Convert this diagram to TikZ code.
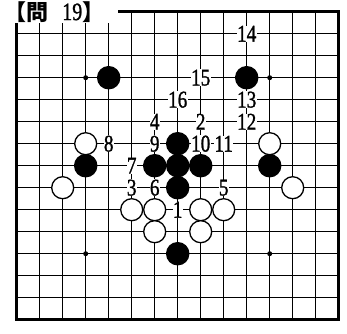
\documentclass[tikz,border=0pt]{standalone}
\usepackage{fontspec}
\setmainfont{Liberation Serif}
\newfontfamily\numfont{Liberation Serif}[FakeBold=1.2]
\newfontfamily\cjk{Noto Sans CJK JP}
\begin{document}
\begin{tikzpicture}[x=23pt,y=-22pt,
 blk/.style={circle,fill=black,minimum size=23.5pt,inner sep=0pt},
 wht/.style={circle,draw,line width=1.3pt,fill=white,minimum size=22pt,inner sep=0pt},
 num/.style={fill=white,inner sep=.2pt,font=\numfont\fontsize{24}{24}\selectfont},
 hoshi/.style={circle,fill=black,minimum size=5pt,inner sep=0pt}]
\useasboundingbox (-16.7pt,11.7pt) rectangle (330.3pt,-321.3pt);
% board
\foreach \i in {1,...,13} {
 \draw[line width=1.1pt] (\i,0) -- (\i,14);
 \draw[line width=1.1pt] (0,\i) -- (14,\i);
}
\draw[line width=2.6pt] (0,0) rectangle (14,14);
\foreach \c/\r [count=\k] in {3/3,11/3,3/11,11/11}
 \node[hoshi] (h\k) at (\c,\r) {};
% title
\fill[white] (-0.8,-0.6) rectangle (4.4,0.51);
\node[anchor=west,inner sep=0pt] (title) at (-0.55,0)
 {{\cjk\bfseries\fontsize{22}{22}\selectfont 【問}\hspace{14pt}\scalebox{.8}[1]{\numfont\fontsize{25}{25}\selectfont 19}{\cjk\bfseries\fontsize{22}{22}\selectfont 】}};
% stones
\foreach \c/\r [count=\k] in {4/3,10/3,7/6,6/7,7/7,8/7,7/8,3/7,11/7,7/11}
 \node[blk] (b\k) at (\c,\r) {};
\foreach \c/\r [count=\k] in {3/6,2/8,11/6,12/8,5/9,6/9,8/9,9/9,6/10,8/10}
 \node[wht] (w\k) at (\c,\r) {};
% moves
\foreach \n/\c/\r in {1/7/9,2/8/5,3/5/8,4/6/5,5/9/8,6/6/8,7/5/7,8/4/6,
 9/6/6,10/8/6,11/9/6,12/10/5,13/10/4,14/10/1,15/8/3,16/7/4}
 \node[num] (m\n) at (\c,\r) {\scalebox{.8}[1]{\n}};
\end{tikzpicture}
\end{document}
